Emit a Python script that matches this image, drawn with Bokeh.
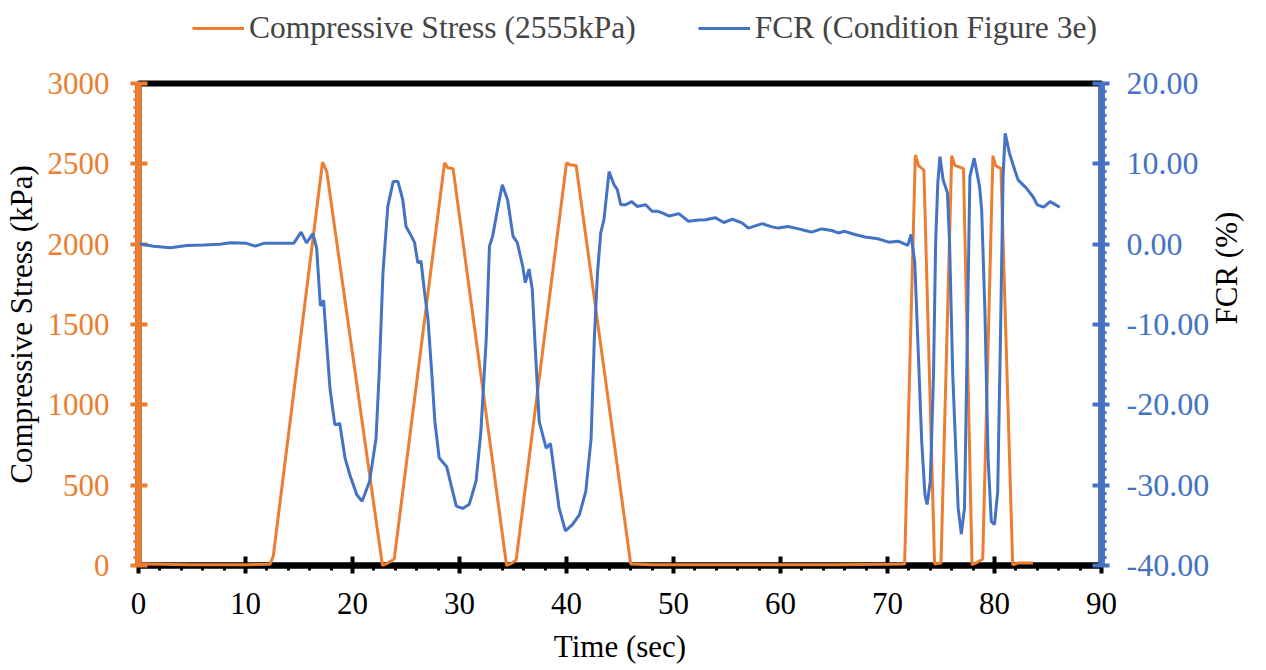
import math
from bokeh.plotting import figure
from bokeh.layouts import column
from bokeh.models import Range1d, LinearAxis, FixedTicker, NumeralTickFormatter, Legend, LegendItem
from bokeh.embed import file_html
from bokeh.resources import INLINE

# ---- data ----
stress_time = [0, 2, 5, 8, 10, 12.3, 12.6, 17.2, 17.6, 22.8, 23.3, 23.9, 28.6, 28.9, 29.4,
               34.4, 34.9, 35.3, 40.0, 40.3, 40.9, 46.0, 48, 50, 55, 60, 65, 70, 71.6,
               72.6, 72.9, 73.4, 74.4, 75.0, 76.0, 76.3, 77.1, 77.9, 78.4, 78.9, 79.85,
               80.1, 80.6, 81.7, 82.2, 83.6]
stress_kpa = [10, 8, 5, 5, 5, 8, 60, 2510, 2450, 0, 15, 40, 2506, 2475, 2470,
              0, 15, 35, 2506, 2495, 2490, 10, 5, 5, 5, 5, 5, 8, 10,
              2555, 2490, 2460, 10, 15, 2550, 2490, 2470, 5, 20, 40, 2550,
              2490, 2470, 5, 15, 15]

fcr_time = [0.1, 1.4, 3.0, 4.5, 6.1, 7.6, 8.6, 10.1, 10.9, 11.7, 14.5, 15.2, 15.7, 16.3, 16.65,
            17.0, 17.3, 17.6, 17.9, 18.35, 18.8, 19.3, 19.75, 20.4, 20.9, 21.6, 22.2, 22.5,
            22.85, 23.3, 23.8, 24.25, 24.7, 25.0, 25.5, 25.8, 26.1, 26.4, 26.7, 27.05, 27.4,
            27.7, 28.1, 28.8, 29.2, 29.7, 30.3, 30.9, 31.55, 32.0, 32.5, 32.8, 33.1, 33.6,
            34.0, 34.5, 35.0, 35.4, 35.9, 36.15, 36.5, 36.8, 37.1, 37.45, 38.1, 38.5, 38.85,
            39.3, 39.9, 40.55, 41.2, 41.8, 42.3, 42.6, 42.9, 43.2, 43.5,
            43.98, 44.44, 44.75, 45.07, 45.5, 46.1, 46.6, 47.4, 48.0, 48.5, 48.95, 49.6,
            50.5, 51.4, 52.4, 53.0, 53.9, 54.7, 55.5, 56.4, 57.0, 58.3, 59.2, 59.8, 60.7,
            61.7, 62.3, 62.9, 63.85, 64.8, 65.4, 66.0, 66.95, 67.9, 69.1, 70.1, 71.0, 71.9,
            72.2, 72.55,
            72.9, 73.2, 73.5, 73.7, 74.0, 74.3, 74.5, 74.7, 74.9, 75.2, 75.6, 75.8, 76.1,
            76.6, 76.9, 77.2, 77.45, 77.7, 78.1, 78.6, 78.8, 79.1, 79.4, 79.7, 80.0, 80.3,
            80.55, 80.8, 81.0, 81.4, 81.9, 82.2, 82.95, 83.6, 84.0, 84.6, 85.2, 86.1]
fcr_pct = [0.05, -0.25, -0.45, -0.16, -0.1, 0.0, 0.17, 0.1, -0.25, 0.1, 0.1, 1.5, 0.17, 1.3, -0.5,
           -7.7, -7.0, -12.6, -18.0, -22.5, -22.3, -26.6, -28.7, -31.2, -32.0, -29.5, -24.2,
           -15.9, -3.5, 4.7, 7.8, 7.8, 5.5, 2.2, 1.0, 0.2, -2.3, -2.1, -5.6, -9.3, -15.9,
           -22.1, -26.6, -27.7, -29.9, -32.6, -32.9, -32.4, -29.5, -23.3, -11.8, -0.25, 1.0,
           4.7, 7.4, 5.5, 1.0, 0.2, -2.7, -4.8, -3.1, -5.6, -13.4, -22.1, -25.4, -24.8, -28.3,
           -32.8, -35.7, -34.9, -33.7, -30.8, -24.2, -11.8, -3.5, 1.4, 3.05,
           9.03, 7.4, 6.8, 4.9, 4.9, 5.3, 4.7, 4.9, 4.1, 4.1, 3.9, 3.5,
           3.8, 2.85, 3.0, 3.05, 3.3, 2.7, 3.1, 2.65, 2.0, 2.55, 2.15, 2.0, 2.2,
           1.9, 1.7, 1.5, 1.9, 1.7, 1.4, 1.6, 1.2, 0.9, 0.67, 0.25, 0.37, -0.16,
           1.2, -2.3,
           -14.3, -24.6, -31.2, -32.4, -29.5, -16.3, 0.2, 7.6, 10.9, 8.0, 6.4, 0.2, -16.3,
           -32.8, -36.1, -32.8, -12.2, 8.4, 10.7, 7.2, 4.3, -8.1, -26.6, -34.5, -34.9, -30.8,
           -12.2, 8.4, 13.8, 11.3, 9.2, 8.0, 7.0, 5.9, 4.9, 4.6, 5.3, 4.6]

x_ticks = [0, 10, 20, 30, 40, 50, 60, 70, 80, 90]
stress_ticks = [0, 500, 1000, 1500, 2000, 2500, 3000]
fcr_ticks = [-40, -30, -20, -10, 0, 10, 20]

legend_labels = ["Compressive Stress (2555kPa)", "FCR (Condition Figure 3e)"]
x_title = "Time (sec)"
left_title = "Compressive Stress (kPa)"
right_title = "FCR (%)"

ORANGE = "#ED7D31"
BLUE = "#4472C4"
FONT = "Liberation Serif"
FS = "31px"
LEG_H = 50
W = 1264

# ---- main chart ----
p = figure(width=W, height=616, x_range=Range1d(0, 90), y_range=Range1d(0, 3000),
           output_backend="svg", toolbar_location=None,
           min_border_left=138, min_border_right=W - 1104, min_border_top=33, min_border_bottom=98)
p.extra_y_ranges = {"fcr": Range1d(-40, 20)}
p.grid.visible = False
p.outline_line_color = "black"
p.outline_line_width = 6
p.background_fill_color = "white"
p.border_fill_color = "white"

def style_axis(ax, color, label_color, lw):
    ax.axis_line_color = color
    ax.axis_line_width = lw
    ax.major_tick_line_color = color
    ax.minor_tick_line_color = color
    ax.major_tick_line_width = 4
    ax.minor_tick_line_width = 3
    ax.major_tick_in = 9
    ax.major_tick_out = 8
    ax.minor_tick_in = 0
    ax.minor_tick_out = 5
    ax.major_label_text_font = FONT
    ax.major_label_text_font_size = FS
    ax.major_label_text_color = label_color
    ax.axis_label_text_font = FONT
    ax.axis_label_text_font_size = FS
    ax.axis_label_text_font_style = "normal"
    ax.axis_label_text_color = "black"

xa = p.xaxis[0]
style_axis(xa, "black", "black", 6)
xa.ticker = FixedTicker(ticks=x_ticks, minor_ticks=list(range(0, 91, 2)))
xa.axis_label = x_title
xa.major_label_standoff = 19
xa.axis_label_standoff = 12

ya = p.yaxis[0]
style_axis(ya, ORANGE, ORANGE, 6)
ya.ticker = FixedTicker(ticks=stress_ticks, minor_ticks=list(range(0, 3001, 50)))
ya.axis_label = left_title
ya.major_label_standoff = 21
ya.axis_label_standoff = 6

ra = LinearAxis(y_range_name="fcr")
style_axis(ra, BLUE, BLUE, 6)
ra.major_label_text_font_size = "32px"
ra.ticker = FixedTicker(ticks=fcr_ticks, minor_ticks=list(range(-40, 21, 1)))
ra.formatter = NumeralTickFormatter(format="0.00")
ra.axis_label = right_title
ra.major_label_standoff = 17
ra.axis_label_standoff = 14
if "axis_label_orientation" in ra.properties():
    ra.axis_label_orientation = math.pi / 2
p.add_layout(ra, "right")

p.line(stress_time, stress_kpa, line_color=ORANGE, line_width=3, level="overlay")
p.line(fcr_time, fcr_pct, line_color=BLUE, line_width=3, y_range_name="fcr", level="overlay")

# ---- legend strip above the chart ----
lg = figure(width=W, height=LEG_H, output_backend="svg", toolbar_location=None,
            min_border=0, x_range=Range1d(0, 1), y_range=Range1d(0, 1))
lg.axis.visible = False
lg.grid.visible = False
lg.outline_line_color = None
lr1 = lg.line(stress_time, stress_kpa, line_color=ORANGE, line_width=3, visible=False)
lr2 = lg.line(fcr_time, fcr_pct, line_color=BLUE, line_width=3, visible=False)
legend = Legend(items=[LegendItem(label=legend_labels[0], renderers=[lr1]),
                       LegendItem(label=legend_labels[1], renderers=[lr2])],
                orientation="horizontal", location=(54, 4),
                label_text_font=FONT, label_text_font_size="31.5px",
                glyph_width=52, glyph_height=20, label_standoff=5, spacing=62,
                padding=0, margin=0, border_line_alpha=0, background_fill_alpha=0,
                inactive_fill_alpha=0)
lg.add_layout(legend, "center")

open("out.html", "w").write(file_html(column(lg, p, spacing=0), INLINE))
